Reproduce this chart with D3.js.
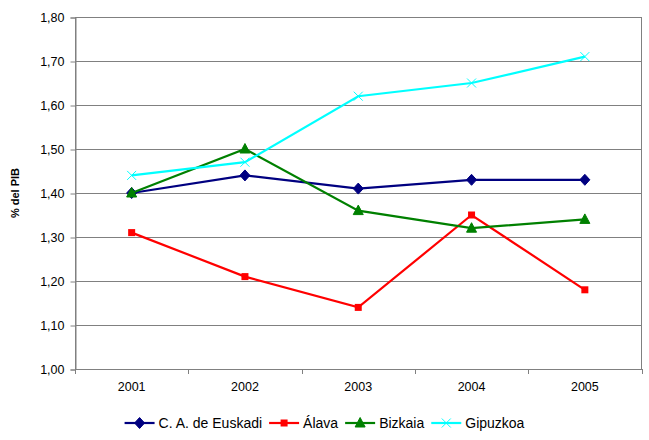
<!DOCTYPE html>
<html>
<head>
<meta charset="utf-8">
<script src="https://cdn.jsdelivr.net/npm/d3@7"></script>
<style>
  html, body { margin: 0; padding: 0; background: #fff; }
  svg { display: block; }
  text { font-family: "Liberation Sans", Arial, sans-serif; fill: #000; }
</style>
</head>
<body>
<svg id="chart" width="649" height="440"></svg>
<script>
const years = ["2001", "2002", "2003", "2004", "2005"];
const euskadi = [1.40, 1.44, 1.41, 1.43, 1.43];
const alava = [1.31, 1.21, 1.14, 1.35, 1.18];
const bizkaia = [1.40, 1.50, 1.36, 1.32, 1.34];
const gipuzkoa = [1.44, 1.47, 1.62, 1.65, 1.71];
const yTicks = [1.0, 1.1, 1.2, 1.3, 1.4, 1.5, 1.6, 1.7, 1.8];
const seriesNames = ["C. A. de Euskadi", "Álava", "Bizkaia", "Gipuzkoa"];

const series = [
  { name: seriesNames[0], values: euskadi, color: "#000080", marker: "diamond" },
  { name: seriesNames[1], values: alava, color: "#FF0000", marker: "square" },
  { name: seriesNames[2], values: bizkaia, color: "#008000", marker: "triangle" },
  { name: seriesNames[3], values: gipuzkoa, color: "#00FFFF", marker: "cross" }
];

const svg = d3.select("#chart");
const L = 75, R = 641.5, T = 17, B = 369;

const x = d3.scaleBand().domain(years).range([L, R]).padding(0);
const y = d3.scaleLinear().domain([1.0, 1.8]).range([B, T]);
const fmt = v => d3.format(".2f")(v).replace(".", ",");

// gridlines
svg.append("g").selectAll("line").data(yTicks).join("line")
  .attr("x1", L).attr("x2", R)
  .attr("y1", d => Math.round(y(d)) + 0.5).attr("y2", d => Math.round(y(d)) + 0.5)
  .attr("stroke", "#808080").attr("stroke-width", 1);

// plot border
svg.append("rect").attr("x", L + 0.5).attr("y", T + 0.5)
  .attr("width", R - L - 0.5).attr("height", B - T)
  .attr("fill", "none").attr("stroke", "#808080");

// y axis
const yAxis = d3.axisLeft(y).tickValues(yTicks).tickFormat(fmt).tickSize(5).tickPadding(6);
const gy = svg.append("g").attr("transform", `translate(${L + 0.5},0.5)`).call(yAxis);
gy.select(".domain").attr("stroke", "#808080");
gy.selectAll(".tick line").attr("stroke", "#808080");
gy.selectAll(".tick text").attr("font-size", "12.5px").attr("font-family", "Liberation Sans, Arial, sans-serif").attr("fill", "#000");

// x axis: ticks at category boundaries
const bounds = years.map(d => x(d)).concat([R]);
svg.append("g").selectAll("line").data(bounds).join("line")
  .attr("x1", d => Math.round(d) + 0.5).attr("x2", d => Math.round(d) + 0.5)
  .attr("y1", B).attr("y2", B + 5).attr("stroke", "#808080");
svg.append("g").selectAll("text").data(years).join("text")
  .attr("x", d => x(d) + x.bandwidth() / 2).attr("y", B + 22)
  .attr("text-anchor", "middle").attr("font-size", "12.5px").text(d => d);

// y title
svg.append("text").attr("transform", `translate(19,${(T + B) / 2}) rotate(-90)`)
  .attr("text-anchor", "middle").attr("font-size", "11px").attr("font-weight", "bold")
  .text("% del PIB");

function drawMarker(g, type, color) {
  if (type === "diamond") {
    g.append("path").attr("d", "M0,-5.5L5,0L0,5.5L-5,0Z").attr("fill", color).attr("stroke", color);
  } else if (type === "square") {
    g.append("rect").attr("x", -3.5).attr("y", -3.5).attr("width", 7).attr("height", 7).attr("fill", color);
  } else if (type === "triangle") {
    g.append("path").attr("d", "M0,-5.5L5,4L-5,4Z").attr("fill", color).attr("stroke", color);
  } else if (type === "cross") {
    g.append("path").attr("d", "M-4.5,-4.5L4.5,4.5M-4.5,4.5L4.5,-4.5").attr("stroke", color).attr("stroke-width", 1);
  }
}

const line = d3.line().x((d, i) => x(years[i]) + x.bandwidth() / 2).y(d => y(d));

series.forEach(s => {
  svg.append("path").datum(s.values).attr("d", line)
    .attr("fill", "none").attr("stroke", s.color).attr("stroke-width", 2.2);
  s.values.forEach((v, i) => {
    const g = svg.append("g").attr("transform", `translate(${x(years[i]) + x.bandwidth() / 2},${y(v)})`);
    drawMarker(g, s.marker, s.color);
  });
});

// legend
const legend = svg.append("g");
let cx = 0;
const ly = 423;
series.forEach((s, i) => {
  const g = legend.append("g").attr("transform", `translate(${cx},0)`);
  g.append("line").attr("x1", 0).attr("x2", 30).attr("y1", ly).attr("y2", ly)
    .attr("stroke", s.color).attr("stroke-width", 2.2);
  const mg = g.append("g").attr("transform", `translate(15,${ly})`);
  drawMarker(mg, s.marker, s.color);
  const t = g.append("text").attr("x", 34).attr("y", ly + 5).attr("font-size", "14px").text(s.name);
  const w = t.node().getComputedTextLength();
  cx += 34 + w + 7;
});
const totalW = cx - 7;
legend.attr("transform", `translate(${(649 - totalW) / 2},0)`);
</script>
</body>
</html>
